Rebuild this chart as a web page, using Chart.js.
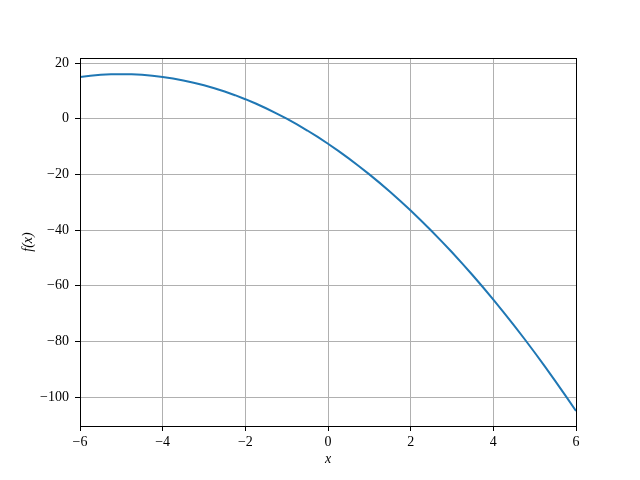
<!DOCTYPE html>
<html>
<head>
<meta charset="utf-8">
<script src="https://cdn.jsdelivr.net/npm/chart.js@4"></script>
<style>
  html, body { margin: 0; padding: 0; background: #fff; }
  #wrap { width: 640px; height: 480px; }
</style>
</head>
<body>
<div id="wrap"><canvas id="plot" width="640" height="480"></canvas></div>
<script>
// values
const xValues = [-6, -5.75, -5.5, -5.25, -5, -4.75, -4.5, -4.25, -4, -3.75, -3.5, -3.25,
                 -3, -2.75, -2.5, -2.25, -2, -1.75, -1.5, -1.25, -1, -0.75, -0.5, -0.25,
                 0, 0.25, 0.5, 0.75, 1, 1.25, 1.5, 1.75, 2, 2.25, 2.5, 2.75,
                 3, 3.25, 3.5, 3.75, 4, 4.25, 4.5, 4.75, 5, 5.25, 5.5, 5.75, 6];
const fValues = [15, 15.44, 15.75, 15.94, 16, 15.94, 15.75, 15.44, 15, 14.44, 13.75, 12.94,
                 12, 10.94, 9.75, 8.44, 7, 5.44, 3.75, 1.94, 0, -2.06, -4.25, -6.56,
                 -9, -11.56, -14.25, -17.06, -20, -23.06, -26.25, -29.56, -33, -36.56, -40.25, -44.06,
                 -48, -52.06, -56.25, -60.56, -65, -69.56, -74.25, -79.06, -84, -89.06, -94.25, -99.56, -105];
const xTicks = [-6, -4, -2, 0, 2, 4, 6];
const yTicks = [-100, -80, -60, -40, -20, 0, 20];

const points = xValues.map((x, i) => ({ x: x, y: fValues[i] }));
const fontFamily = '"Liberation Serif", "DejaVu Serif", serif';

function minus(v) {
  return String(v).replace('-', '\u2212');
}

// box around the plot area, like matplotlib spines
const frame = {
  id: 'frame',
  afterDraw(chart) {
    const a = chart.chartArea;
    const ctx = chart.ctx;
    ctx.save();
    ctx.strokeStyle = '#000';
    ctx.lineWidth = 1;
    ctx.strokeRect(a.left + 0.5, a.top + 0.5, a.right - a.left, a.bottom - a.top);
    ctx.restore();
  }
};

new Chart(document.getElementById('plot').getContext('2d'), {
  type: 'line',
  data: {
    datasets: [{
      data: points,
      borderColor: '#1f77b4',
      borderWidth: 2,
      pointRadius: 0,
      fill: false,
      tension: 0
    }]
  },
  options: {
    responsive: false,
    animation: false,
    layout: { padding: { top: 58, right: 64, left: 0, bottom: 0 } },
    plugins: { legend: { display: false }, tooltip: { enabled: false } },
    scales: {
      x: {
        type: 'linear',
        min: -6,
        max: 6,
        afterFit(scale) { scale.height = 54; },
        afterBuildTicks(scale) { scale.ticks = xTicks.map(v => ({ value: v })); },
        ticks: {
          color: '#000',
          font: { family: fontFamily, size: 14 },
          padding: 3,
          maxRotation: 0,
          callback: v => minus(v)
        },
        grid: { color: '#b0b0b0', lineWidth: 1, tickColor: '#000', tickLength: 5 },
        border: { color: '#000' },
        title: {
          display: true,
          text: 'x',
          color: '#000',
          font: { family: fontFamily, size: 14, style: 'italic' },
          padding: { top: 0, bottom: 12 }
        }
      },
      y: {
        type: 'linear',
        min: -110.4,
        max: 21.8,
        afterFit(scale) { scale.width = 80; },
        afterBuildTicks(scale) { scale.ticks = yTicks.map(v => ({ value: v })); },
        ticks: {
          color: '#000',
          font: { family: fontFamily, size: 14 },
          padding: 6,
          callback: v => minus(v)
        },
        grid: { color: '#b0b0b0', lineWidth: 1, tickColor: '#000', tickLength: 5 },
        border: { color: '#000' },
        title: {
          display: true,
          text: 'f(x)',
          color: '#000',
          font: { family: fontFamily, size: 14, style: 'italic' },
          padding: { top: 20, bottom: 0 }
        }
      }
    }
  },
  plugins: [frame]
});
</script>
</body>
</html>
